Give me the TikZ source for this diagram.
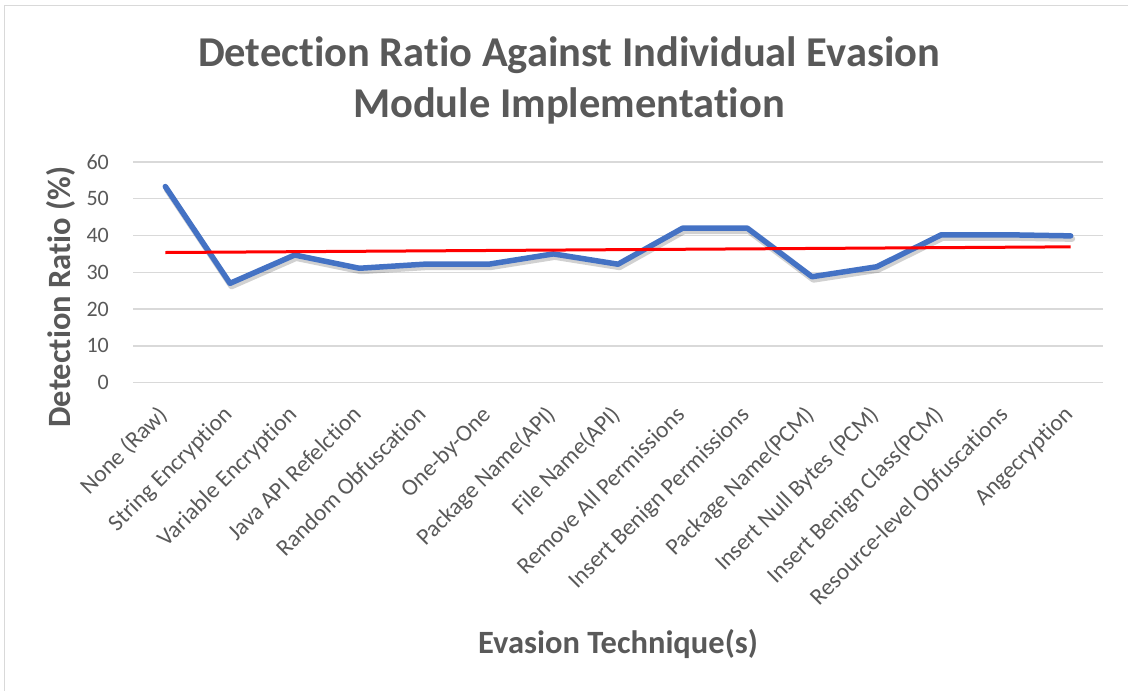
\documentclass[tikz,border=0pt]{standalone}
\usepackage{fontspec}
\setmainfont{Carlito}[Ligatures=NoCommon]

\definecolor{chartblue}{HTML}{4472C4}
\definecolor{trendred}{HTML}{FF0000}
\definecolor{gridgrey}{HTML}{D9D9D9}
\definecolor{textgrey}{HTML}{595959}

\tikzset{
    gridline/.style={draw=gridgrey, line width=1.5pt},
    ticklabel/.style={text=textgrey, font=\fontsize{22}{26}\selectfont, anchor=east, inner sep=0pt},
    catlabel/.style={text=textgrey, font=\fontsize{23.5}{28}\selectfont, anchor=base east, rotate=45, inner sep=0pt},
    axistitle/.style={text=textgrey, font=\bfseries\fontsize{32.5}{38}\selectfont, anchor=base, inner sep=0pt},
    charttitle/.style={text=textgrey, font=\bfseries\fontsize{42.5}{50}\selectfont, anchor=base, inner sep=0pt},
    dataline/.style={draw=chartblue, line width=5.5pt, line join=round, line cap=round},
    datashadow/.style={draw=black, opacity=0.18, line width=6pt, line join=round, line cap=round},
    trendline/.style={draw=trendred, line width=3pt},
}

\begin{document}
\begin{tikzpicture}[x=1pt, y=-1pt]
        \useasboundingbox (0,0) rectangle (1128,691);

        % Chart frame
        \draw[gridgrey, line width=1.2pt] (4.5,691) -- (4.5,5.5) -- (1128,5.5);

        % Title
        \node[charttitle] (title1) at (569,66) {Detection Ratio Against Individual Evasion};
        \node[charttitle] (title2) at (569,117) {Module Implementation};

        % Axis titles
        \node[axistitle, rotate=90] (ytitle) at (70,297) {Detection Ratio (\%)};
        \node[axistitle] (xtitle) at (618,653) {Evasion Technique(s)};

        % Plot area: one unit per category, values in percent
        \begin{scope}[shift={(100.67,382.7)}, x=64.667pt, y=3.68pt]

            % Grid and values
            \foreach \v in {0,10,...,60}{
                \draw[gridline] (0.5,\v) -- (15.5,\v);
                \node[ticklabel] (tick\v) at (0.129,\v) {\v};
            }

            % Categories
            \foreach \name [count=\i] in {None (Raw), String Encryption, Variable Encryption,
                Java API Refelction, Random Obfuscation, One-by-One, Package Name(API),
                File Name(API), Remove All Permissions, Insert Benign Permissions,
                Package Name(PCM), Insert Null Bytes (PCM), Insert Benign Class(PCM),
                Resource-level Obfuscations, Angecryption}
                \node[catlabel] (cat\i) at (\i+0.05,-9.05) {\name};

            % Measured ratios
            \foreach \v [count=\i] in {53.3, 27.0, 34.7, 31.1, 32.2, 32.2, 35.0, 32.2,
                42.0, 42.0, 28.8, 31.5, 40.2, 40.2, 39.9}
                \coordinate (p\i) at (\i,\v);

            \draw[datashadow, transform canvas={xshift=1.5pt, yshift=-3pt}]
                (p1) \foreach \i in {2,...,15}{ -- (p\i)};
            \draw[dataline] (p1) \foreach \i in {2,...,15}{ -- (p\i)};

            % Linear trend
            \coordinate (t1) at (1,35.38);
            \coordinate (t15) at (15,36.92);
            \draw[trendline] (t1) -- (t15);

        \end{scope}

    \end{tikzpicture}
\end{document}
